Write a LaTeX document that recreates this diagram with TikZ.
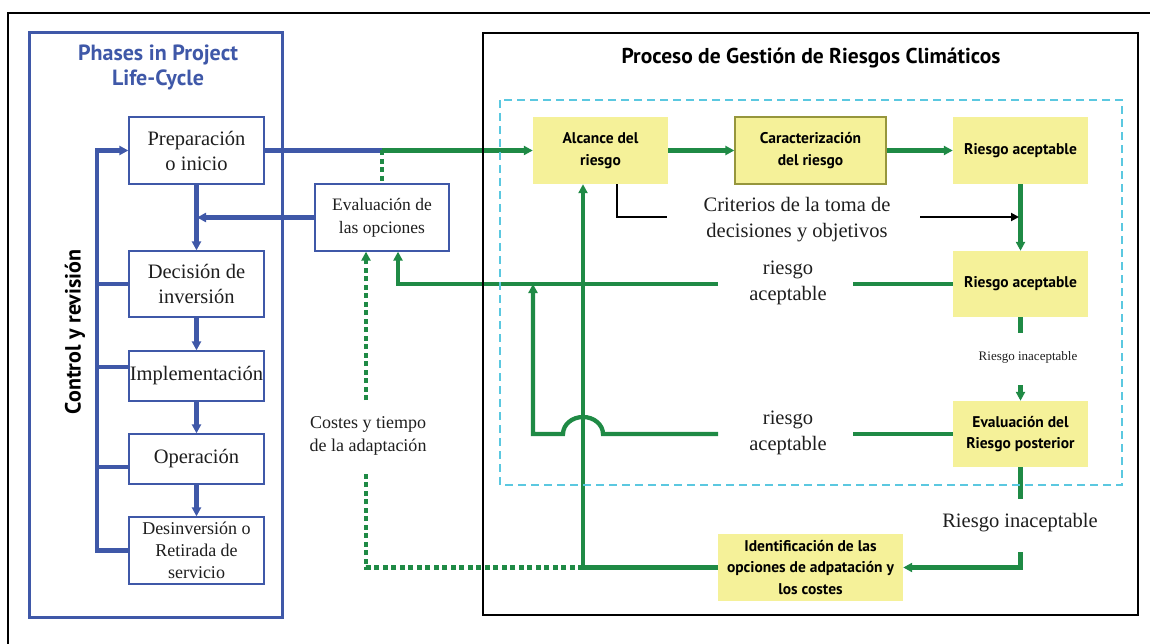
\documentclass[tikz,border=0pt]{standalone}
\usepackage{fontspec}
\setmainfont{Liberation Serif}
\newfontfamily\hsans{PT Sans}
\usetikzlibrary{arrows.meta}
\definecolor{bl}{RGB}{63,88,168}
\definecolor{gr}{RGB}{31,138,69}
\definecolor{yel}{RGB}{245,241,153}
\definecolor{cy}{RGB}{91,200,224}
\definecolor{olv}{RGB}{150,150,60}
\definecolor{txt}{RGB}{30,30,30}
\begin{document}
\begin{tikzpicture}[x=1pt,y=-1pt,
  phase/.style={draw=bl, line width=1.3pt, fill=white, text=txt, minimum width=135pt, align=center, inner sep=0pt, font=\fontsize{20.5}{25}\selectfont},
  ybox/.style={fill=yel, minimum width=135pt, minimum height=67pt, align=center, inner sep=0pt, font=\hsans\bfseries\fontsize{15.5}{21.5}\selectfont},
  lbl/.style={align=center, inner sep=0pt, text=txt, font=\fontsize{20.5}{26}\selectfont},
  gl/.style={draw=gr, line width=4.3pt},
  ga/.style={gl, -{Triangle[length=9pt,width=9pt]}},
  bline/.style={draw=bl, line width=4.3pt},
  ba/.style={bline, -{Triangle[length=9pt,width=9pt]}},
  gdot/.style={draw=gr, line width=4.3pt, dash pattern=on 5pt off 3.5pt},
  gdota/.style={gdot, -{Triangle[length=9pt,width=9pt]}},
  blk/.style={draw=black, line width=1.6pt}
]
\useasboundingbox (0,0) rectangle (1150,644);

% ---- nodes (positions) ----
\node[phase, minimum height=67pt] (prep) at (196.5,150.5) {Preparación\\o inicio};
\node[phase, minimum height=66pt] (dec) at (196.5,284) {Decisión de\\inversión};
\node[phase, minimum height=50pt] (imp) at (196.5,376) {Implementación};
\node[phase, minimum height=50pt] (ope) at (196.5,459) {Operación};
\node[phase, minimum height=67pt, font=\fontsize{18}{22}\selectfont] (des) at (196.5,550.5) {Desinversión o\\Retirada de\\servicio};
\node[phase, minimum width=134pt, minimum height=67pt, font=\fontsize{17.5}{23}\selectfont] (evo) at (382,217.5) {Evaluación de\\las opciones};

\node[ybox] (alc) at (600.5,150.5) {Alcance del\\riesgo};
\node[ybox, draw=olv, line width=1.3pt, minimum width=151pt] (car) at (810.5,150.5) {Caracterización\\del riesgo};
\node[ybox] (ra1) at (1020.5,150.5) {Riesgo aceptable};
\node[ybox, minimum height=66pt] (ra2) at (1020.5,284) {Riesgo aceptable};
\node[ybox, minimum height=66pt] (erp) at (1020.5,434) {Evaluación del\\Riesgo posterior};
\node[ybox, minimum width=185pt] (ide) at (810.5,567.5) {Identificación de las\\opciones de adpatación y\\los costes};

% ---- text labels ----
\node[align=center, text=bl, font=\hsans\bfseries\fontsize{22}{25}\selectfont] (pht) at (158,67) {Phases in Project\\Life-Cycle};
\node[rotate=90, font=\hsans\bfseries\fontsize{22}{24}\selectfont] (ctl) at (75,332) {Control y revisión};
\node[font=\hsans\bfseries\fontsize{21.5}{24}\selectfont] (prt) at (811,58) {Proceso de Gestión de Riesgos Climáticos};
\node[lbl] (cri) at (797,220) {Criterios de la toma de\\decisiones y objetivos};
\node[lbl] (rau) at (788,283) {riesgo\\aceptable};
\node[lbl] (ral) at (788,433) {riesgo\\aceptable};
\node[lbl, font=\fontsize{13}{16}\selectfont] (ri1) at (1028,357) {Riesgo inaceptable};
\node[lbl] (ri2) at (1020,523) {Riesgo inaceptable};
\node[lbl, font=\fontsize{18}{23}\selectfont] (cos) at (368,436) {Costes y tiempo\\de la adaptación};

% ---- helper coordinates ----
\coordinate (j1) at (382,150.5);
\coordinate (j2) at (197,217.5);
\coordinate (ct) at (97,150.5);
\coordinate (cb) at (97,550.5);
\coordinate (cd) at (97,284);
\coordinate (ci) at (97,367);
\coordinate (co) at (97,467);
\coordinate (vx) at (583,567.5);
\coordinate (hu) at (853,284);
\coordinate (hu2) at (718,284);
\coordinate (ev2) at (398,284);
\coordinate (hl) at (853,434);
\coordinate (hl2) at (718,434);
\coordinate (hopr) at (603,434);
\coordinate (hopl) at (563,434);
\coordinate (lv) at (533,434);
\coordinate (lvt) at (533,284);
\coordinate (dl) at (366,567.5);
\coordinate (dm1) at (366,472);
\coordinate (dm2) at (366,400);
\coordinate (r1a) at (1020.5,333);
\coordinate (r1b) at (1020.5,385);
\coordinate (r2a) at (1020.5,499);
\coordinate (r2b) at (1020.5,552);
\coordinate (r2c) at (1020.5,567.5);
\coordinate (k1) at (617,217);
\coordinate (k2) at (667,217);
\coordinate (k3) at (920,217);
\coordinate (k4) at (1019,217);

% ---- blue connectors ----
\draw[bline] (prep.east) -- (j1);
\draw[ba] (evo.west) -- (j2);
\draw[ba] (prep.south) -- (dec.north);
\draw[ba] (dec.south) -- (imp.north);
\draw[ba] (imp.south) -- (ope.north);
\draw[ba] (ope.south) -- (des.north);
\draw[ba] (des.west) -- (cb) -- (ct) -- (prep.west);
\draw[bline] (cd) -- (dec.west);
\draw[bline] (ci) -- (imp.west |- ci);
\draw[bline] (co) -- (ope.west |- co);

% ---- green connectors ----
\draw[ga] (j1) -- (alc.west);
\draw[gdot] (j1) -- (evo.north);
\draw[ga] (alc.east) -- (car.west);
\draw[ga] (car.east) -- (ra1.west);
\draw[ga] (ra1.south) -- (ra2.north);
\draw[gl] (ra2.south) -- (r1a);
\draw[ga] (r1b) -- (erp.north);
\draw[gl] (erp.south) -- (r2a);
\draw[ga] (r2b) -- (r2c) -- (ide.east);
\draw[gl] (ra2.west) -- (hu);
\draw[ga] (hu2) -- (ev2) -- (evo.south -| ev2);
\draw[gl] (erp.west) -- (hl);
\draw[ga] (hl2) -- (hopr) .. controls (603,424.6) and (594,417) .. (583,417)
   .. controls (572,417) and (563,424.6) .. (hopl) -- (lv) -- (lvt);
\draw[ga] (ide.west) -- (vx) -- (alc.south -| vx);
\draw[gdot] (vx) -- (dl) -- (dm1);
\draw[gdota] (dm2) -- (evo.south -| dm2);

% ---- black connector ----
\draw[blk] (alc.south -| k1) -- (k1) -- (k2);
\draw[blk, line width=2.2pt, -{Triangle[length=8pt,width=8pt]}] (k3) -- (k4);

% ---- frames ----
\draw[line width=1.8pt] (8,644) -- (8,13) -- (1150,13);
\draw[bl, line width=3pt] (29,33) rectangle (282,617);
\draw[line width=2.5pt] (483,33) rectangle (1138,615);
\draw[cy, line width=2.5pt, dash pattern=on 8pt off 5pt] (500,100) rectangle (1122,485);
\end{tikzpicture}
\end{document}
